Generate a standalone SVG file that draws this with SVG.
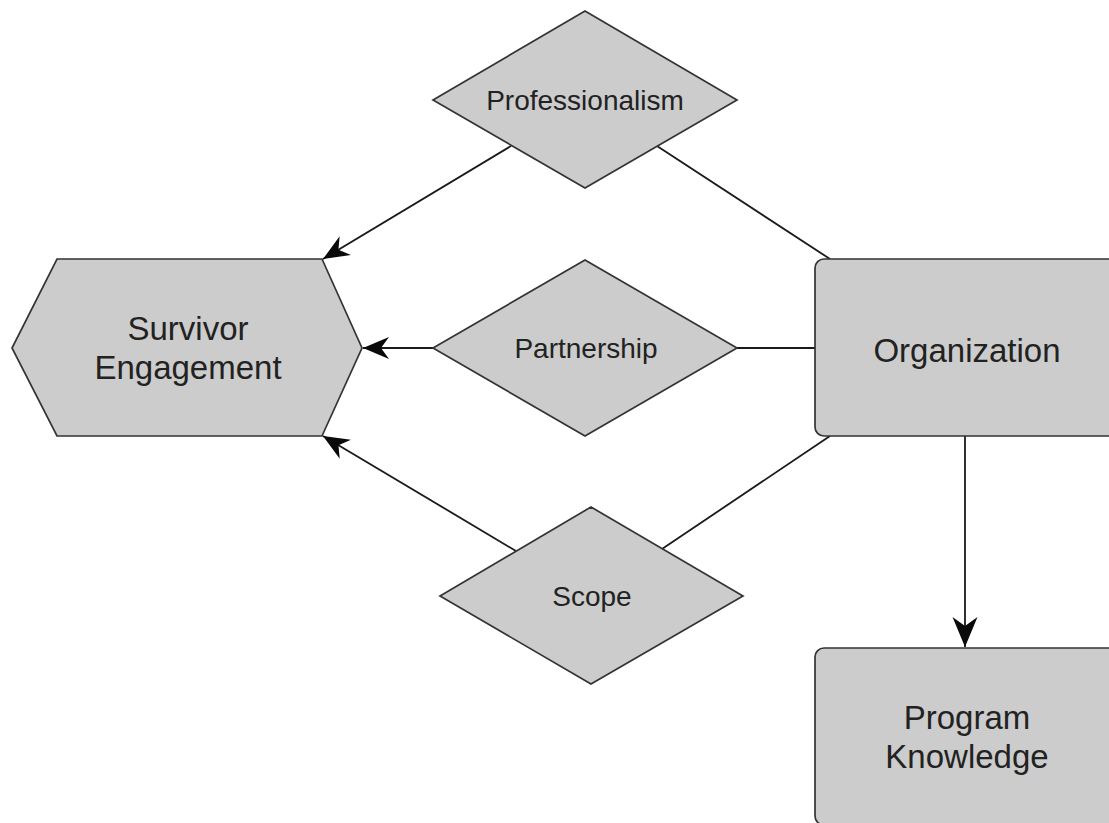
<svg xmlns="http://www.w3.org/2000/svg" width="1109" height="823" viewBox="0 0 1109 823">
<style>
.shape{fill:#cccccc;stroke:#333333;stroke-width:1.7}
.lbl{font-family:"Liberation Sans",Arial,sans-serif;fill:#222222;text-anchor:middle}
.big{font-size:33px}
.small{font-size:28px}
.conn{stroke:#1a1a1a;stroke-width:1.8;fill:none}
</style>
<defs>
<marker id="arr" markerUnits="userSpaceOnUse" markerWidth="30" markerHeight="26" viewBox="-28 -13 30 26" refX="0" refY="0" orient="auto">
<path d="M0,0 L-26,-11 L-18,0 L-26,11 Z" fill="#0a0a0a"/>
</marker>
<marker id="arrBig" markerUnits="userSpaceOnUse" markerWidth="34" markerHeight="30" viewBox="-32 -15 34 30" refX="0" refY="0" orient="auto">
<path d="M0,0 L-30,-12.5 L-21,0 L-30,12.5 Z" fill="#0a0a0a"/>
</marker>
</defs>
<rect width="1109" height="823" fill="#ffffff"/>
<g id="connectors">
<line class="conn" x1="511" y1="146" x2="323" y2="259" marker-end="url(#arr)"/>
<line class="conn" x1="830" y1="259" x2="657" y2="146"/>
<line class="conn" x1="433" y1="348" x2="363" y2="348" marker-end="url(#arr)"/>
<line class="conn" x1="815" y1="348" x2="737" y2="348"/>
<line class="conn" x1="516" y1="551" x2="323" y2="436" marker-end="url(#arr)"/>
<line class="conn" x1="830" y1="436" x2="662" y2="549"/>
<line class="conn" x1="965" y1="436" x2="965" y2="647" stroke-width="3" marker-end="url(#arrBig)"/>
</g>
<g id="survivor-engagement">
<polygon class="shape" points="57,259 322,259 362,348 322,436 57,436 12,348"/>
<text class="lbl big" x="188" y="340">Survivor</text>
<text class="lbl big" x="188" y="379">Engagement</text>
</g>
<g id="professionalism">
<polygon class="shape" points="585,11 737,100 585,188 433,100"/>
<text class="lbl small" x="585" y="110">Professionalism</text>
</g>
<g id="partnership">
<polygon class="shape" points="585,260 737,348 585,436 433,348"/>
<text class="lbl small" x="586" y="358">Partnership</text>
</g>
<g id="scope">
<polygon class="shape" points="591,507 743,596 591,684 440,596"/>
<text class="lbl small" x="592" y="606">Scope</text>
</g>
<g id="organization">
<rect class="shape" x="815" y="259" width="310" height="177" rx="9"/>
<text class="lbl big" x="967" y="362">Organization</text>
</g>
<g id="program-knowledge">
<rect class="shape" x="815" y="648" width="310" height="177" rx="9"/>
<text class="lbl big" x="967" y="729">Program</text>
<text class="lbl big" x="967" y="768">Knowledge</text>
</g>
</svg>
